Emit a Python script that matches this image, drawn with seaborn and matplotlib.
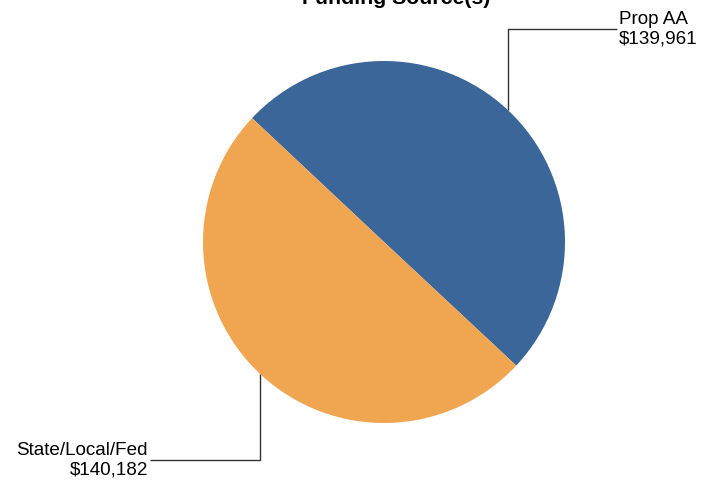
import numpy as np
import matplotlib
matplotlib.use("Agg")
import matplotlib.pyplot as plt
import seaborn as sns

# Funding breakdown
sources = ["Prop AA", "State/Local/Fed"]
amounts = [139961, 140182]
colors = ["#3A6699", "#F0A551"]
title = "Funding Source(s)"

sns.set_theme(style="white")
plt.rcParams["font.family"] = ["Liberation Sans", "DejaVu Sans"]

W, H = 712, 482
fig = plt.figure(figsize=(W / 100, H / 100), dpi=100)
ax = fig.add_axes([0, 0, 1, 1])

cx, cy, r = 384, H - 242, 181
wedges, _ = ax.pie(amounts, colors=colors, startangle=136.8, counterclock=False,
                   center=(cx, cy), radius=r, frame=True,
                   wedgeprops=dict(linewidth=0))
ax.set_xlim(0, W)
ax.set_ylim(0, H)
ax.set_aspect("equal")
ax.axis("off")

# Elbow leader lines: up/down from the wedge's mid-angle edge point, then across
label_y = [H - 29, H - 460]
label_x = [617, 150]
for w, name, amt, ly, lx in zip(wedges, sources, amounts, label_y, label_x):
    mid = np.deg2rad((w.theta1 + w.theta2) / 2)
    ex, ey = cx + r * np.cos(mid), cy + r * np.sin(mid)
    ax.plot([ex, ex, lx], [ey, ly, ly], color="#333333", lw=1.0, solid_capstyle="butt")
    txt = f"{name}\n${amt:,}"
    if lx > ex:
        ax.text(lx + 2, ly, txt, ha="left", va="center", fontsize=13.6,
                color="black", multialignment="left", linespacing=1.2)
    else:
        ax.text(lx - 2, ly, txt, ha="right", va="center", fontsize=13.6,
                color="black", multialignment="right", linespacing=1.2)

ax.text(396, H + 1.5, title, ha="center", va="center", fontsize=15.3,
        fontweight="bold", color="black")

fig.savefig("out.png", dpi=100)
